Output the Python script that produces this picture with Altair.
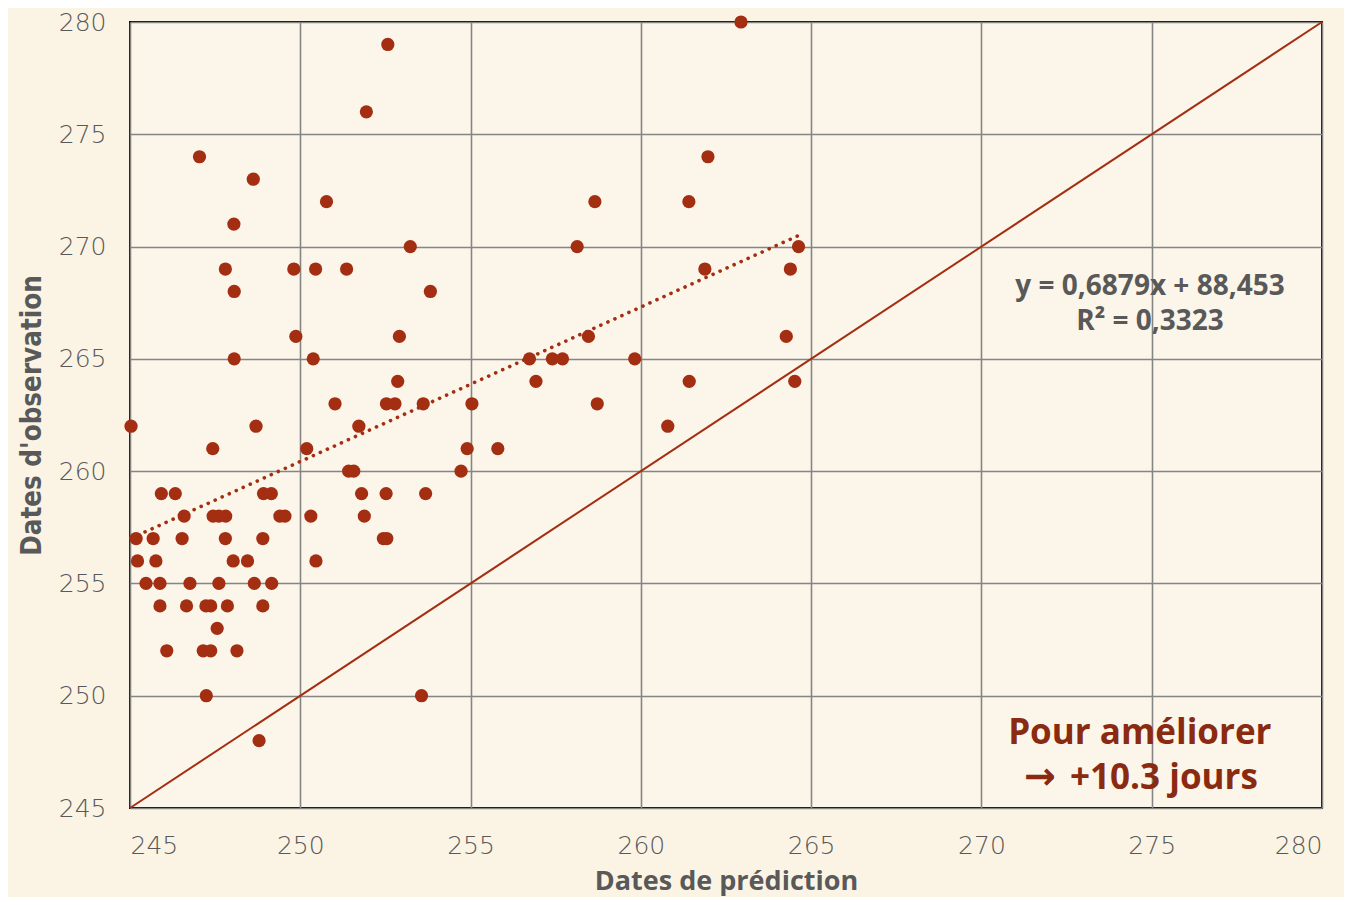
import altair as alt
import pandas as pd

# Observed date (y) and the predicted dates (x) recorded at that observed date
obs_values = [280, 279, 276, 274, 273, 272, 271, 270, 269, 268, 266, 265, 264, 263,
              262, 261, 260, 259, 258, 257, 256, 255, 254, 253, 252, 250, 248]
pred_values = [
    [262.94],
    [252.57],
    [251.94],
    [247.04, 261.97],
    [248.62],
    [250.77, 258.65, 261.41],
    [248.05],
    [253.23, 258.13, 264.63],
    [247.80, 249.81, 250.45, 251.36, 261.88, 264.39],
    [248.06, 253.82],
    [249.87, 252.91, 258.46, 264.27],
    [248.06, 250.38, 256.73, 257.40, 257.70, 259.82],
    [252.86, 256.92, 261.42, 264.52],
    [251.02, 252.53, 252.78, 253.61, 255.04, 258.72],
    [245.03, 248.70, 251.72, 260.79],
    [247.43, 250.19, 254.90, 255.80],
    [251.42, 251.57, 254.72],
    [245.92, 246.33, 248.92, 249.15, 251.80, 252.52, 253.68],
    [246.59, 247.44, 247.61, 247.81, 249.40, 249.55, 250.31, 251.88],
    [245.18, 245.68, 246.53, 247.80, 248.90, 252.44, 252.54],
    [245.22, 245.76, 248.03, 248.45, 250.46],
    [245.47, 245.88, 246.76, 247.61, 248.65, 249.16],
    [245.88, 246.66, 247.23, 247.37, 247.86, 248.90],
    [247.56],
    [246.08, 247.15, 247.37, 248.14],
    [247.24, 253.56],
    [248.79],
]

tick_values = [245, 250, 255, 260, 265, 270, 275, 280]
slope = 0.6879
intercept = 88.453
r2_label = "R² = 0,3323"
eq_label = "y = 0,6879x + 88,453"
note_line1 = "Pour améliorer"
note_arrow = "→"
note_line2 = "+10.3 jours"

RED = "#A32E12"
NOTE_RED = "#8A2A10"
GRAY_TEXT = "#595959"

rows = []
for o, preds in zip(obs_values, pred_values):
    for p in preds:
        rows.append({"pred": p, "obs": o})
df = pd.DataFrame(rows)

xmin, xmax = df["pred"].min(), df["pred"].max()
trend = pd.DataFrame({"pred": [xmin, xmax],
                      "obs": [slope * xmin + intercept, slope * xmax + intercept]})
ident = pd.DataFrame({"pred": [245, 280], "obs": [245, 280]})

xscale = alt.Scale(domain=[245, 280], nice=False, zero=False)
yscale = alt.Scale(domain=[245, 280], nice=False, zero=False)

LABEL_FONT = "DejaVu Sans"
BOLD_FONT = "Open Sans"

xaxis = alt.Axis(values=tick_values, grid=True, gridColor="#858585", gridWidth=1.6,
                 domain=False, ticks=False, labelFont=LABEL_FONT, labelFontSize=25,
                 labelFontWeight=200,
                 labelColor=GRAY_TEXT, labelPadding=25, title="Dates de prédiction",
                 titleFont=BOLD_FONT, titleFontSize=27, titleFontWeight="bold",
                 titleColor=GRAY_TEXT, titleY=73, titleBaseline="middle")
yaxis = alt.Axis(values=tick_values, grid=True, gridColor="#858585", gridWidth=1.6,
                 domain=False, ticks=False, labelFont=LABEL_FONT, labelFontSize=25,
                 labelFontWeight=200,
                 labelColor=GRAY_TEXT, labelPadding=24, title="Dates d'observation",
                 titleFont="DejaVu Sans Condensed", titleFontSize=27.5,
                 titleFontWeight="bold", titleColor=GRAY_TEXT, titleX=-98,
                 titleY=393, titleAngle=270, titleBaseline="middle")

ident_line = alt.Chart(ident).mark_line(color=RED, strokeWidth=2).encode(
    x=alt.X("pred:Q", scale=xscale, axis=xaxis),
    y=alt.Y("obs:Q", scale=yscale, axis=yaxis),
)

trend_line = alt.Chart(trend).mark_line(
    color=RED, strokeWidth=3.6, strokeDash=[0.1, 7.6], strokeCap="round"
).encode(x=alt.X("pred:Q", scale=xscale), y=alt.Y("obs:Q", scale=yscale))

points = alt.Chart(df).mark_circle(size=175, color=RED, opacity=1).encode(
    x=alt.X("pred:Q", scale=xscale), y=alt.Y("obs:Q", scale=yscale)
)

eq_df = pd.DataFrame({"pred": [274.95], "obs": [268.20], "t": [[eq_label, r2_label]]})
eq_text = alt.Chart(eq_df).mark_text(
    font=BOLD_FONT, fontSize=28, fontWeight="bold", color=GRAY_TEXT,
    align="center", baseline="middle", lineHeight=35
).encode(x=alt.X("pred:Q", scale=xscale), y=alt.Y("obs:Q", scale=yscale), text="t:N")

note_df = pd.DataFrame({
    "pred": [274.65, 275.36, 271.72],
    "obs": [248.34, 246.34, 246.34],
    "t": [note_line1, note_line2, note_arrow],
    "f": ["main", "main", "arrow"],
})
note_text = alt.Chart(note_df).transform_filter(alt.datum.f == "main").mark_text(
    font=BOLD_FONT, fontSize=35, fontWeight="bold", color=NOTE_RED,
    align="center", baseline="middle"
).encode(x=alt.X("pred:Q", scale=xscale), y=alt.Y("obs:Q", scale=yscale), text="t:N")
arrow_text = alt.Chart(note_df).transform_filter(alt.datum.f == "arrow").mark_text(
    font="DejaVu Sans", fontSize=38, fontWeight="bold", color=NOTE_RED,
    align="center", baseline="middle"
).encode(x=alt.X("pred:Q", scale=xscale), y=alt.Y("obs:Q", scale=yscale), text="t:N")

chart = (
    alt.layer(ident_line, trend_line, points, eq_text, note_text, arrow_text)
    .properties(
        width=1192, height=786,
        autosize=alt.AutoSizeParams(type="none"),
        padding={"left": 122, "top": 14, "right": 22, "bottom": 89},
        background="#FBF4E5",
    )
    .configure_view(stroke="#000000", strokeWidth=2, fill="#FCF6EA")
)

chart.save("out.html", embed_options={"renderer": "svg", "actions": False})
